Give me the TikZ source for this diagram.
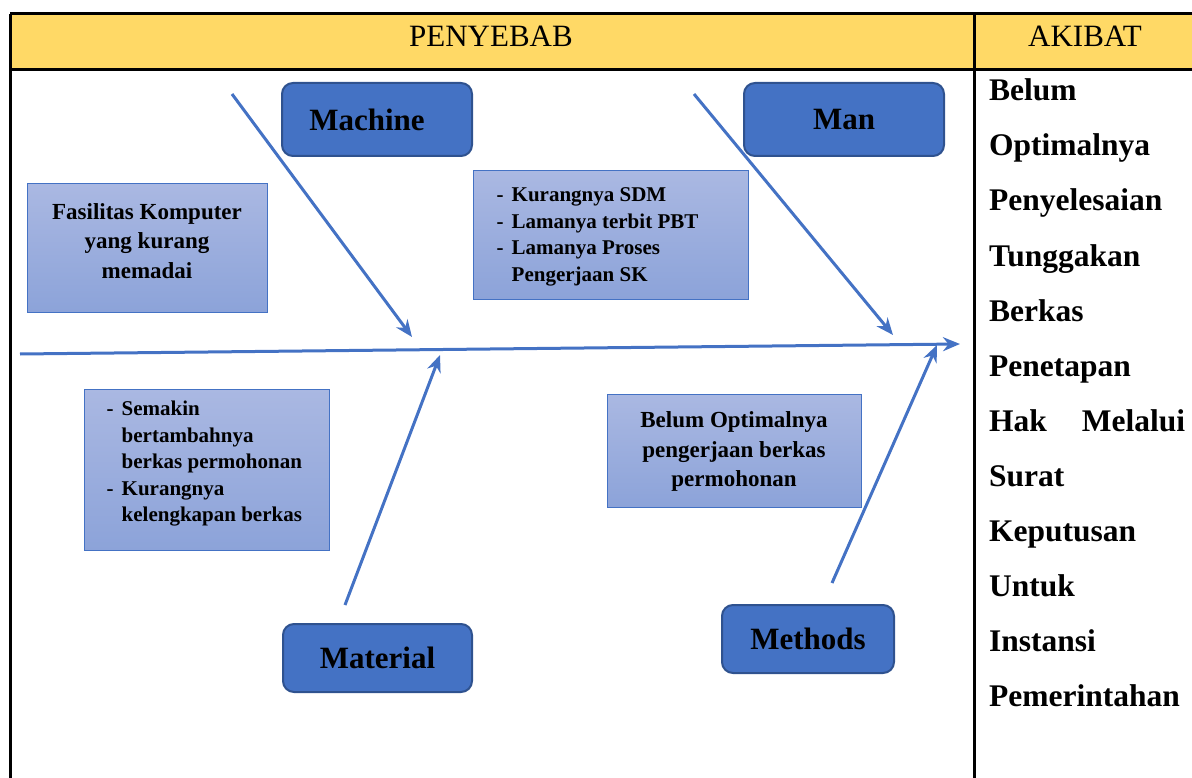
\documentclass[tikz,border=0pt]{standalone}
\usepackage{fontspec}
\setmainfont{Liberation Serif}
\usepackage{xcolor}
\usetikzlibrary{arrows.meta,positioning,shadows}
\definecolor{boneblue}{RGB}{68,114,196}
\definecolor{catborder}{RGB}{47,82,143}
\definecolor{headyellow}{RGB}{255,217,102}
\definecolor{boxtop}{RGB}{170,184,226}
\definecolor{boxbot}{RGB}{140,163,217}
\tikzset{%
	bone/.style     = {draw=boneblue, line width=3pt, -{Stealth[length=17pt,width=14pt]}},
	catbox/.style   = {draw=catborder, line width=2pt, fill=boneblue, rounded corners=11pt, font=\fontsize{31}{36}\selectfont\bfseries},
	causebox/.style = {draw=boneblue, line width=1pt, top color=boxtop, bottom color=boxbot},
	causetext/.style= {align=center, inner sep=0pt, font=\fontsize{23}{29.5}\selectfont\bfseries},
	listtext/.style = {inner sep=0pt, font=\fontsize{21}{26.5}\selectfont\bfseries},
	grid/.style     = {line width=3pt},
}
\begin{document}
\begin{tikzpicture}[x=1pt,y=-1pt]
	\useasboundingbox (0,0) rectangle (1192,778);
	% table
	\fill[headyellow] (10,14) rectangle (1192,70);
	\draw[grid] (10,14) -- (1192,14);
	\draw[grid] (10,70) -- (1192,70);
	\draw[grid] (10,14) -- (10,778);
	\draw[grid] (974,14) -- (974,778);
	\node[font=\fontsize{31}{36}\selectfont] (cause) at (491,36) {PENYEBAB};
	\node[font=\fontsize{31}{36}\selectfont] (effect) at (1085,36) {AKIBAT};
	% effect column
	\foreach \w [count=\i] in {Belum, Optimalnya, Penyelesaian, Tunggakan, Berkas, Penetapan,
		{\hbox to 196pt{Hak\hfill Melalui}}, Surat, Keputusan, Untuk, Instansi, Pemerintahan}
		\node[anchor=base west, inner sep=0pt, font=\fontsize{31.5}{36}\selectfont\bfseries] (res\i) at (989,{101+55*(\i-1)}) {\w};
	% spine
	\coordinate (tail) at (20,354);
	\coordinate (head) at (960,344);
	\draw[bone] (tail) -- (head);
	% categories
	\node[catbox, minimum width=190pt, minimum height=73pt] (machine) at (377,119.5) {Machine\hspace*{20pt}};
	\node[catbox, minimum width=200pt, minimum height=73pt] (man) at (844,119.5) {Man};
	\node[catbox, minimum width=189pt, minimum height=68pt] (material) at (377.5,658) {Material};
	\node[catbox, minimum width=172pt, minimum height=68pt] (methods) at (808,639) {Methods};
	% bones
	\coordinate (machineA) at (232,94);   \coordinate (machineB) at (412,337);
	\coordinate (manA) at (694,94);       \coordinate (manB) at (893,335);
	\coordinate (materialA) at (345,605); \coordinate (materialB) at (440,355);
	\coordinate (methodsA) at (832,583);  \coordinate (methodsB) at (937,345);
	\draw[bone] (machineA) -- (machineB);
	\draw[bone] (manA) -- (manB);
	\draw[bone] (materialA) -- (materialB);
	\draw[bone] (methodsA) -- (methodsB);
	% causes
	\node[causebox, minimum width=240pt, minimum height=128pt] (fasilitas) at (147,248) {};
	\node[causetext] (fasilitasT) at ([yshift=7pt]fasilitas) {Fasilitas Komputer\\yang kurang\\memadai};
	\node[causebox, minimum width=275pt, minimum height=128pt] (sdm) at (610.5,235) {};
	\node[listtext, anchor=west] (sdmT) at ([xshift=24pt,yshift=-1pt]sdm.west) {%
		\begin{tabular}{@{}l@{\hspace{8pt}}l@{}}
		- & Kurangnya SDM\\
		- & Lamanya terbit PBT\\
		- & Lamanya Proses\\
		  & Pengerjaan SK
		\end{tabular}};
	\node[causebox, minimum width=245pt, minimum height=161pt] (berkas) at (206.5,469.5) {};
	\node[listtext, anchor=west] (berkasT) at ([xshift=23pt,yshift=6pt]berkas.west) {%
		\begin{tabular}{@{}l@{\hspace{8pt}}l@{}}
		- & Semakin\\
		  & bertambahnya\\
		  & berkas permohonan\\
		- & Kurangnya\\
		  & kelengkapan berkas
		\end{tabular}};
	\node[causebox, minimum width=254pt, minimum height=113pt] (optimal) at (734,450.5) {};
	\node[causetext] (optimalT) at ([yshift=-1pt]optimal) {Belum Optimalnya\\pengerjaan berkas\\permohonan};
\end{tikzpicture}
\end{document}
